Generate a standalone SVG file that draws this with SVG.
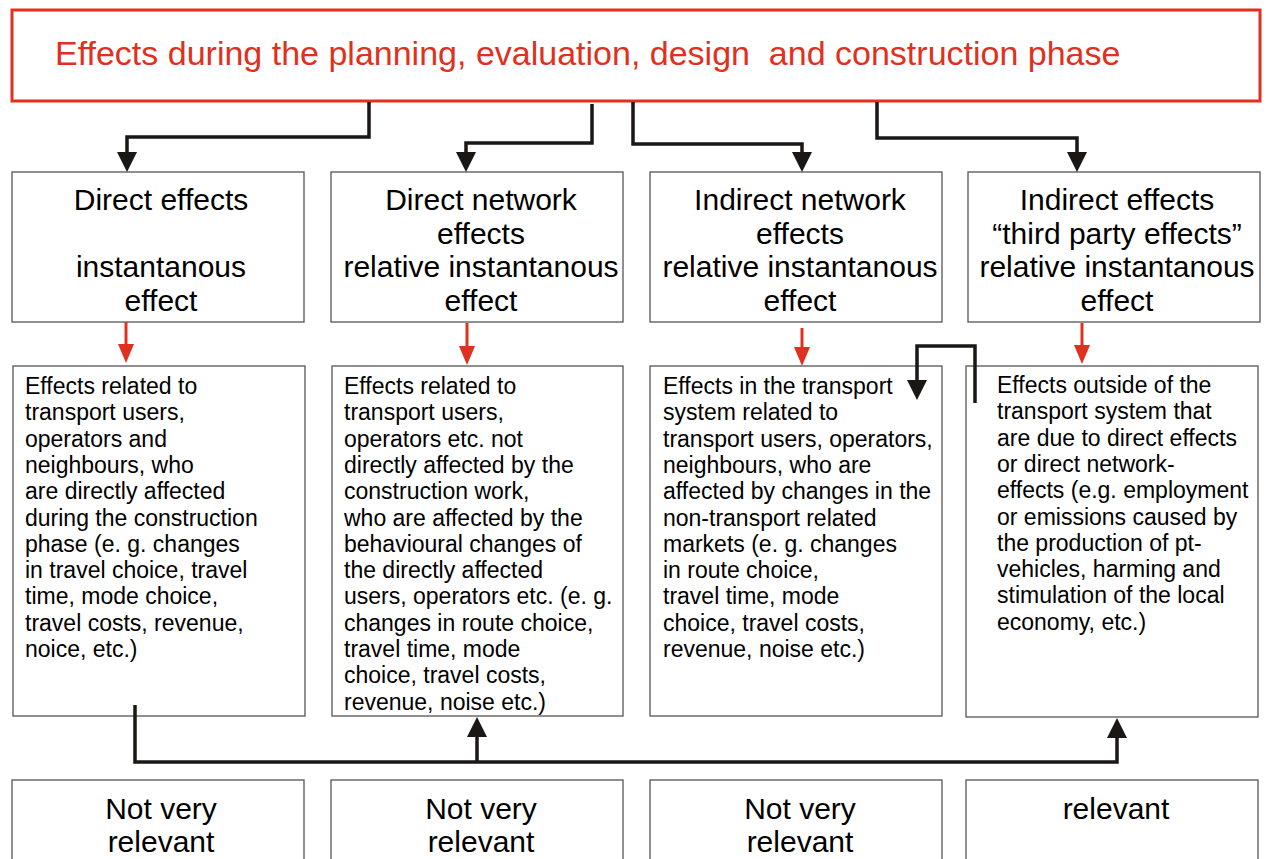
<svg xmlns="http://www.w3.org/2000/svg" width="1266" height="859" viewBox="0 0 1266 859">
<style>
.box{fill:#fff;stroke:#555;stroke-width:1.3}
.head{font-family:"Liberation Sans",Arial,sans-serif;font-size:30px;fill:#000;text-anchor:middle}
.body{font-family:"Liberation Sans",Arial,sans-serif;font-size:23px;fill:#000}
.con{fill:none;stroke:#1a1715;stroke-width:3.5}
.red{fill:none;stroke:#e03020;stroke-width:3}
</style>
<defs>
<marker id="ab" markerUnits="userSpaceOnUse" markerWidth="20" markerHeight="20" refX="0" refY="10" orient="auto" viewBox="0 0 20 20"><path d="M0,0 L20,10 L0,20 Z" fill="#1a1715"/></marker>
<marker id="ar" markerUnits="userSpaceOnUse" markerWidth="19" markerHeight="16" refX="0" refY="8" orient="auto" viewBox="0 0 19 16"><path d="M0,0 L19,8 L0,16 Z" fill="#e03020"/></marker>
</defs>
<rect width="1266" height="859" fill="#fff"/>
<g id="title">
<rect x="12" y="10" width="1248" height="91" fill="#fff" stroke="#e03020" stroke-width="3"/>
<text x="55" y="65" font-family="Liberation Sans, Arial, sans-serif" font-size="34" fill="#e03020" xml:space="preserve">Effects during the planning, evaluation, design  and construction phase</text>
</g>
<g id="h1"><rect class="box" x="12" y="172" width="292" height="150"/>
<text class="head"><tspan x="161" y="210">Direct effects</tspan><tspan x="161" y="277">instantanous</tspan><tspan x="161" y="311">effect</tspan></text></g>
<g id="h2"><rect class="box" x="331" y="172" width="292" height="150"/>
<text class="head"><tspan x="481" y="210">Direct network</tspan><tspan x="481" y="244">effects</tspan><tspan x="481" y="277">relative instantanous</tspan><tspan x="481" y="311">effect</tspan></text></g>
<g id="h3"><rect class="box" x="650" y="172" width="292" height="150"/>
<text class="head"><tspan x="800" y="210">Indirect network</tspan><tspan x="800" y="244">effects</tspan><tspan x="800" y="277">relative instantanous</tspan><tspan x="800" y="311">effect</tspan></text></g>
<g id="h4"><rect class="box" x="968" y="172" width="292" height="150"/>
<text class="head"><tspan x="1117" y="210">Indirect effects</tspan><tspan x="1117" y="244">“third party effects”</tspan><tspan x="1117" y="277">relative instantanous</tspan><tspan x="1117" y="311">effect</tspan></text></g>
<g id="d1"><rect class="box" x="13" y="366" width="292" height="350"/>
<text class="body"><tspan x="25" y="394">Effects related to</tspan><tspan x="25" y="420.3">transport users,</tspan><tspan x="25" y="446.6">operators and</tspan><tspan x="25" y="472.9">neighbours, who</tspan><tspan x="25" y="499.2">are directly affected</tspan><tspan x="25" y="525.5">during the construction</tspan><tspan x="25" y="551.8">phase (e. g. changes</tspan><tspan x="25" y="578.1">in travel choice, travel</tspan><tspan x="25" y="604.4">time, mode choice,</tspan><tspan x="25" y="630.7">travel costs, revenue,</tspan><tspan x="25" y="657">noice, etc.)</tspan></text></g>
<g id="d2"><rect class="box" x="332" y="366" width="291" height="350"/>
<text class="body"><tspan x="344" y="394">Effects related to</tspan><tspan x="344" y="420.3">transport users,</tspan><tspan x="344" y="446.6">operators etc. not</tspan><tspan x="344" y="472.9">directly affected by the</tspan><tspan x="344" y="499.2">construction work,</tspan><tspan x="344" y="525.5">who are affected by the</tspan><tspan x="344" y="551.8">behavioural changes of</tspan><tspan x="344" y="578.1">the directly affected</tspan><tspan x="344" y="604.4">users, operators etc. (e. g.</tspan><tspan x="344" y="630.7">changes in route choice,</tspan><tspan x="344" y="657">travel time, mode</tspan><tspan x="344" y="683.3">choice, travel costs,</tspan><tspan x="344" y="709.6">revenue, noise etc.)</tspan></text></g>
<g id="d3"><rect class="box" x="650" y="366" width="292" height="350"/>
<text class="body"><tspan x="663" y="394">Effects in the transport</tspan><tspan x="663" y="420.3">system related to</tspan><tspan x="663" y="446.6">transport users, operators,</tspan><tspan x="663" y="472.9">neighbours, who are</tspan><tspan x="663" y="499.2">affected by changes in the</tspan><tspan x="663" y="525.5">non-transport related</tspan><tspan x="663" y="551.8">markets (e. g. changes</tspan><tspan x="663" y="578.1">in route choice,</tspan><tspan x="663" y="604.4">travel time, mode</tspan><tspan x="663" y="630.7">choice, travel costs,</tspan><tspan x="663" y="657">revenue, noise etc.)</tspan></text></g>
<g id="d4"><rect class="box" x="966" y="366" width="292" height="351"/>
<text class="body"><tspan x="997" y="393">Effects outside of the</tspan><tspan x="997" y="419.3">transport system that</tspan><tspan x="997" y="445.6">are due to direct effects</tspan><tspan x="997" y="471.9">or direct network-</tspan><tspan x="997" y="498.2">effects (e.g. employment</tspan><tspan x="997" y="524.5">or emissions caused by</tspan><tspan x="997" y="550.8">the production of pt-</tspan><tspan x="997" y="577.1">vehicles, harming and</tspan><tspan x="997" y="603.4">stimulation of the local</tspan><tspan x="997" y="629.7">economy, etc.)</tspan></text></g>
<g id="r1"><rect class="box" x="12" y="780" width="292" height="100"/>
<text class="head"><tspan x="161" y="819">Not very</tspan><tspan x="161" y="852">relevant</tspan></text></g>
<g id="r2"><rect class="box" x="331" y="780" width="292" height="100"/>
<text class="head"><tspan x="481" y="819">Not very</tspan><tspan x="481" y="852">relevant</tspan></text></g>
<g id="r3"><rect class="box" x="650" y="780" width="292" height="100"/>
<text class="head"><tspan x="800" y="819">Not very</tspan><tspan x="800" y="852">relevant</tspan></text></g>
<g id="r4"><rect class="box" x="966" y="780" width="292" height="100"/>
<text class="head"><tspan x="1116" y="819">relevant</tspan></text></g>
<g id="connectors">
<path class="con" d="M369,102 V137 H127 V152" marker-end="url(#ab)"/>
<path class="con" d="M592,104 V143 H466 V152" marker-end="url(#ab)"/>
<path class="con" d="M633,102 V144 H802 V152" marker-end="url(#ab)"/>
<path class="con" d="M877,102 V138 H1077 V152" marker-end="url(#ab)"/>
<path class="red" d="M126,322 V344" marker-end="url(#ar)"/>
<path class="red" d="M467,323 V346" marker-end="url(#ar)"/>
<path class="red" d="M802,328 V347" marker-end="url(#ar)"/>
<path class="red" d="M1082,323 V345" marker-end="url(#ar)"/>
<path class="con" d="M975,403 V346 H917 V380" marker-end="url(#ab)"/>
<path class="con" d="M135,705 V762 H1117 V738" marker-end="url(#ab)"/>
<path class="con" d="M477,762 V737" marker-end="url(#ab)"/>
</g>
</svg>
